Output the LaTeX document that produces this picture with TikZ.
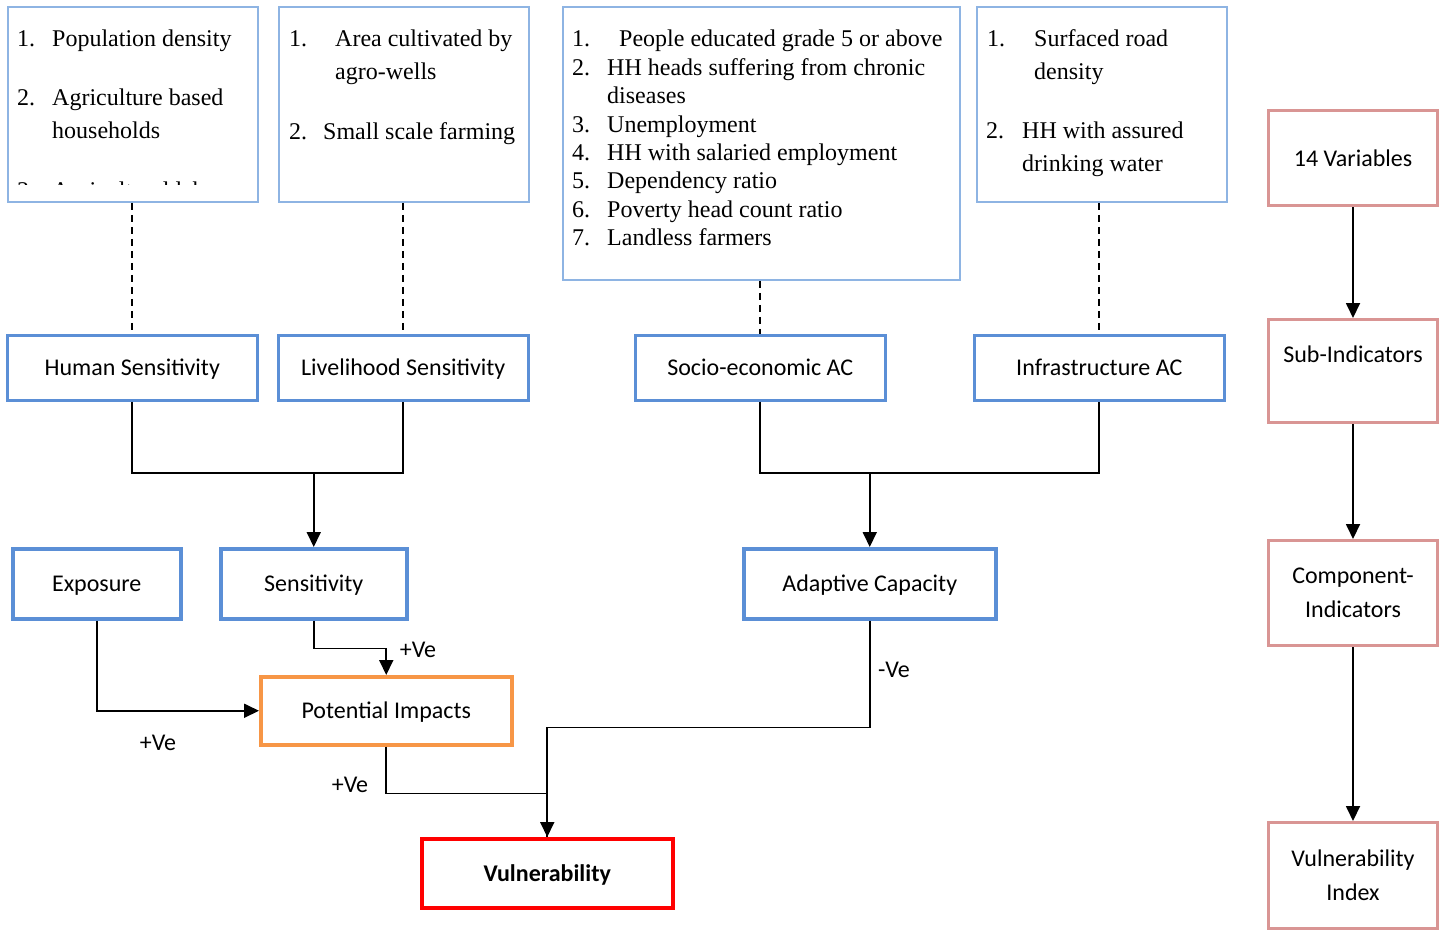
\documentclass[tikz,border=0pt]{standalone}
\usepackage{fontspec}
\setmainfont{Liberation Serif}
\newfontfamily\calib{Carlito}
\usetikzlibrary{arrows.meta}
\definecolor{topblue}{RGB}{142,180,227}
\definecolor{midblue}{RGB}{91,143,214}
\definecolor{orng}{RGB}{247,150,70}
\definecolor{pinkb}{RGB}{217,149,148}
\definecolor{redb}{RGB}{255,0,0}
\tikzset{
  topbox/.style={draw=topblue, line width=1.8pt, anchor=north west, inner sep=0pt},
  midbox/.style={draw=midblue, line width=2.5pt, anchor=north west, inner sep=0pt, font=\calib\fontsize{24}{28}\selectfont, text height=18pt, text depth=2pt},
  rowbox/.style={draw=midblue, line width=3.5pt, anchor=north west, inner sep=0pt, font=\calib\fontsize{24}{28}\selectfont, text height=18pt, text depth=2pt},
  rbox/.style={draw=pinkb, line width=3pt, anchor=north west, inner sep=0pt, align=center, font=\calib\fontsize{24}{34}\selectfont},
  ser/.style={anchor=base west, inner sep=0pt, font=\fontsize{24}{28}\selectfont},
  conn/.style={draw=black, line width=1.8pt},
  arr/.style={conn, -{Triangle[length=15pt,width=14pt]}},
  dsh/.style={draw=black, line width=1.6pt, dash pattern=on 7pt off 5pt},
  lbl/.style={inner sep=0pt, font=\calib\fontsize{24}{28}\selectfont}
}
\begin{document}
\begin{tikzpicture}[x=1pt,y=-1pt]
\useasboundingbox (0,0) rectangle (1440,930);
% top text boxes
\node[topbox, minimum width=250pt, minimum height=195pt] (b1) at (7,6) {};
\node[topbox, minimum width=250pt, minimum height=195pt] (b2) at (278,6) {};
\node[topbox, minimum width=397pt, minimum height=273pt] (b3) at (562,6) {};
\node[topbox, minimum width=250pt, minimum height=195pt] (b4) at (976,6) {};
% box 1 text
\node[ser] (b1n1) at (17,46) {1.};
\node[ser] (b1t1) at (52,46) {Population density};
\node[ser] (b1n2) at (17,105) {2.};
\node[ser] (b1t2) at (52,105) {Agriculture based};
\node[ser] (b1t2b) at (52,138) {households};
\begin{scope}
\clip (9,8) rectangle (255,184);
\node[ser] (b1n3) at (17,198) {3.};
\node[ser] (b1t3) at (52,198) {Agricultural labourers};
\end{scope}
% box 2 text
\node[ser] (b2n1) at (289,46) {1.};
\node[ser] (b2t1) at (335,46) {Area cultivated by};
\node[ser] (b2t1b) at (335,79) {agro-wells};
\node[ser] (b2n2) at (289,139) {2.};
\node[ser] (b2t2) at (323,139) {Small scale farming};
% box 3 text
\node[ser] (b3n1) at (572,46) {1.};
\node[ser] (b3t1) at (619,46) {People educated grade 5 or above};
\node[ser] (b3n2) at (572,75) {2.};
\node[ser] (b3t2) at (607,75) {HH heads suffering from chronic};
\node[ser] (b3t2b) at (607,103) {diseases};
\node[ser] (b3n3) at (572,132) {3.};
\node[ser] (b3t3) at (607,132) {Unemployment};
\node[ser] (b3n4) at (572,160) {4.};
\node[ser] (b3t4) at (607,160) {HH with salaried employment};
\node[ser] (b3n5) at (572,188) {5.};
\node[ser] (b3t5) at (607,188) {Dependency ratio};
\node[ser] (b3n6) at (572,217) {6.};
\node[ser] (b3t6) at (607,217) {Poverty head count ratio};
\node[ser] (b3n7) at (572,245) {7.};
\node[ser] (b3t7) at (607,245) {Landless farmers};
% box 4 text
\node[ser] (b4n1) at (987,46) {1.};
\node[ser] (b4t1) at (1034,46) {Surfaced road};
\node[ser] (b4t1b) at (1034,79) {density};
\node[ser] (b4n2) at (986,138) {2.};
\node[ser] (b4t2) at (1022,138) {HH with assured};
\node[ser] (b4t2b) at (1022,171) {drinking water};
% middle boxes
\node[midbox, minimum width=250pt, minimum height=65pt] (hs) at (6,334) {Human Sensitivity};
\node[midbox, minimum width=250pt, minimum height=65pt] (ls) at (277,334) {Livelihood Sensitivity};
\node[midbox, minimum width=250pt, minimum height=65pt] (se) at (634,334) {Socio-economic AC};
\node[midbox, minimum width=250pt, minimum height=65pt] (ia) at (973,334) {Infrastructure AC};
% row 3
\node[rowbox, minimum width=168pt, minimum height=70pt] (ex) at (11,547) {Exposure};
\node[rowbox, minimum width=186pt, minimum height=70pt] (sn) at (219,547) {Sensitivity};
\node[rowbox, minimum width=252pt, minimum height=70pt] (ac) at (742,547) {Adaptive Capacity};
\node[rowbox, draw=orng, minimum width=251pt, minimum height=68pt] (pi) at (259,675) {Potential Impacts};
\node[rowbox, draw=redb, minimum width=251pt, minimum height=69pt, font=\calib\bfseries\fontsize{24}{28}\selectfont] (vu) at (420,837) {Vulnerability};
% right column
\node[rbox, minimum width=169pt, minimum height=95pt] (v14) at (1267,109) {14 Variables};
\node[rbox, minimum width=169pt, minimum height=103pt] (sub) at (1267,318) {Sub-Indicators\\[0pt]\mbox{}};
\node[rbox, minimum width=169pt, minimum height=105pt] (cmp) at (1267,539) {Component-\\Indicators};
\node[rbox, minimum width=169pt, minimum height=106pt] (vi) at (1267,821) {Vulnerability\\Index};
% dashed connectors
\draw[dsh] (hs.north |- b1.south) -- (hs.north);
\draw[dsh] (ls.north |- b2.south) -- (ls.north);
\draw[dsh] (se.north |- b3.south) -- (se.north);
\draw[dsh] (ia.north |- b4.south) -- (ia.north);
% sensitivity bracket
\path (sn.north) ++(0,-74) coordinate (j1);
\draw[conn] (hs.south) |- (j1) -| (ls.south);
\draw[arr] (j1) -- (sn.north);
% adaptive bracket
\path (ac.north) ++(0,-74) coordinate (j2);
\draw[conn] (se.south) |- (j2) -| (ia.south);
\draw[arr] (j2) -- (ac.north);
% to potential impacts
\path (sn.south) ++(0,28) coordinate (j3);
\draw[arr] (sn.south) -- (j3) -| (pi.north);
\draw[arr] (ex.south) |- (pi.west);
% to vulnerability
\path (pi.south) ++(0,47) coordinate (j4);
\path (ac.south) ++(0,107) coordinate (j5);
\draw[conn] (pi.south) -- (j4) -| (vu.north);
\draw[arr] (ac.south) -- (j5) -| (vu.north);
% labels
\node[lbl] (l1) at (418,650) {+Ve};
\node[lbl] (l2) at (158,743) {+Ve};
\node[lbl] (l3) at (350,785) {+Ve};
\node[lbl] (l4) at (894,670) {-Ve};
% right arrows
\draw[arr] (v14.south) -- (sub.north);
\draw[arr] (sub.south) -- (cmp.north);
\draw[arr] (cmp.south) -- (vi.north);
\end{tikzpicture}
\end{document}
